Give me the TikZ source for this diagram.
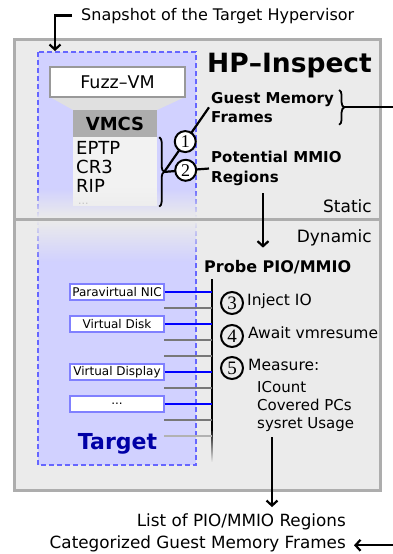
\documentclass[tikz,border=0pt]{standalone}
\usepackage{fontspec}
\setmainfont{DejaVu Sans}
\newfontfamily\numfont{Liberation Serif}
\usetikzlibrary{positioning,calc,arrows.meta,decorations.pathreplacing,fadings}
\newcommand{\fsz}[2]{\fontsize{#1}{#2}\selectfont}

\begin{document}
\begin{tikzpicture}[x=1pt,y=-1pt,
    txt/.style={inner sep=0pt},
    frame/.style={draw=frm,fill=bgc,line width=3pt},
    conn/.style={line width=2.2pt},
    brc/.style={line width=1.8pt,decorate,decoration={brace,amplitude=5pt}},
    devbox/.style={draw=blue!50,fill=white,line width=1.4pt,inner sep=0pt,
        minimum width=94pt,minimum height=16pt,font=\fsz{12}{13}},
    num/.style={circle,draw,line width=2pt,inner sep=0pt,minimum size=22pt,
        font=\numfont\fsz{19}{19}},
    stp/.style={inner sep=0pt,anchor=mid west,font=\fsz{15.5}{18}},
    >={Straight Barb[length=5pt,width=11pt]}]
    %colores
    \colorlet{bgc}{black!8}
    \colorlet{frm}{black!32}
    \colorlet{tb}{blue!18}
    \colorlet{tbd}{blue!60}
    \colorlet{tgtc}{blue!65!black}

    \useasboundingbox (0,0) rectangle (392,554);

    % Marcos static / dynamic
    \draw[frame] (14,39) rectangle (380,219);
    \draw[frame] (14,219) rectangle (380,490);

    % Caja target
    \draw[tbd,fill=tb,line width=2pt,dash pattern=on 5pt off 3pt] (38,52) rectangle (196,465);

    % Fuzz-VM, embudo, VMCS
    \fill[black!12] (50,97) -- (185,97) -- (157,110) -- (73,110) -- cycle;
    \node[draw=black!40,fill=white,line width=1.4pt,minimum width=135pt,minimum height=30pt,
        inner sep=0pt,font=\fsz{17.5}{20}] (fuzz) at (117.5,82) {Fuzz--VM};
    \node[fill=black!32,minimum width=84pt,minimum height=27pt,inner sep=0pt,
        font=\bfseries\fsz{18}{20}] (vmcs) at (115,123.5) {VMCS};
    \node[fill=black!5,minimum width=84pt,minimum height=69pt,inner sep=0pt,anchor=north] (regs) at (vmcs.south) {};
    \node[txt,anchor=north west,align=left,font=\fsz{18}{19}] (rtxt) at (76,141) {EPTP\\CR3\\RIP};
    \node[txt,anchor=base west,text=black!40,font=\fsz{11}{11}] (rdots) at (78,204) {...};

    % desvanecer en la division
    \fill[bgc,path fading=north] (35,188) rectangle (199,217.5);
    \fill[bgc,path fading=south] (35,220.5) rectangle (199,262);
    \draw[frm,line width=3pt] (14,219) -- (380,219);

    % Static
    \node[txt,anchor=base west] (snap) at (81,20) {\fsz{16}{18}Snapshot of the Target Hypervisor};
    \coordinate (snapin) at (55,51);
    \draw[conn,->,shorten <=9pt] (snap.west) -| (snapin);
    \node[txt,anchor=base west,font=\bfseries\fsz{26.5}{30}] (hpi) at (207,72) {HP--Inspect};
    \node[inner sep=2pt,anchor=north west,align=left,font=\bfseries\fsz{15}{19}] (gmf) at (209,90) {Guest Memory\\Frames};
    \node[inner sep=2pt,anchor=north west,align=left,font=\bfseries\fsz{15}{20}] (mmio) at (209,149) {Potential MMIO\\Regions};
    \node[txt,anchor=base east,font=\fsz{17}{20}] (stat) at (372,212) {Static};

    \draw[brc] ([xshift=2pt]regs.north east) -- ([xshift=2pt]regs.south east) coordinate[midway,xshift=5pt] (rbt);
    \draw[conn] (rbt) -- (gmf.west);
    \draw[conn] (rbt) -- (mmio.west);
    \node[num,fill=white,minimum size=21pt,font=\numfont\fsz{18}{18}] (c1) at ($(rbt)!0.47!(gmf.west)$) {1};
    \node[num,fill=white,minimum size=21pt,font=\numfont\fsz{18}{18}] (c2) at ($(rbt)!0.48!(mmio.west)$) {2};
    \draw[brc] ([xshift=3pt]gmf.north east) -- ([xshift=3pt]gmf.south east) coordinate[midway,xshift=5pt] (gbt);

    % Dynamic
    \node[txt,anchor=base east,font=\fsz{17}{20}] (dyn) at (372,242) {Dynamic};
    \node[txt,anchor=base west,font=\bfseries\fsz{16}{18}] (probe) at (204,272) {Probe PIO/MMIO};
    \coordinate (s2d) at (263,193);
    \draw[conn,->,shorten >=12pt] (s2d) -- (s2d |- probe.north);

    \begin{scope}
        \coordinate (bus) at (212,279);
        \draw[line width=2.5pt] (bus) -- (212,431);
        \fill[black,path fading=south] (210.75,428) rectangle (213.25,462);
        \foreach \y/\c in {308/black!53,340/black!53,356/black!53,388/black!53,420/black!53,436/black!30}
            \draw[line width=2.5pt,\c] (164,\y) -- (bus |- 0,\y);
        \foreach \n/\y/\t in {nic/292/Paravirtual NIC,dsk/324/Virtual Disk,dsp/372/Virtual Display}{
            \node[devbox] (\n) at (117,\y) {\t};
            \draw[line width=2.5pt,blue] (\n) -- (\n -| bus);
        }
        \node[devbox] (dts) at (117,404) {...};
        \draw[line width=2.5pt,blue] (dts) -- (dts -| bus);
    \end{scope}
    \node[txt,anchor=base,text=tgtc,font=\bfseries\fsz{22}{24}] (tgt) at (117.5,449) {Target};

    \node[num] (c3) at (232,303) {3};
    \node[num] (c4) at (232,336) {4};
    \node[num] (c5) at (232,368) {5};
    \node[stp] (inj) at ([xshift=3pt]c3.east) {Inject IO};
    \node[stp] (awt) at ([xshift=4pt]c4.east) {Await vmresume};
    \node[stp] (mea) at ([xshift=4pt]c5.east) {Measure:};
    \node[txt,anchor=north west,align=left,font=\fsz{15}{18}] (meas) at (257,381) {ICount\\Covered PCs\\sysret Usage};

    % Salidas
    \node[txt,anchor=base east,font=\fsz{16.8}{20}] (outl) at (346,526) {List of PIO/MMIO Regions};
    \node[txt,anchor=base east,font=\fsz{16.8}{20}] (outc) at (346,548) {Categorized Guest Memory Frames};
    \coordinate (m2o) at (272,437);
    \draw[conn,->,shorten >=6pt] (m2o) -- (m2o |- outl.north);
    \draw[conn,->] (gbt) -- ++(60,0) |- ([xshift=8pt]outc.mid east);
\end{tikzpicture}
\end{document}
